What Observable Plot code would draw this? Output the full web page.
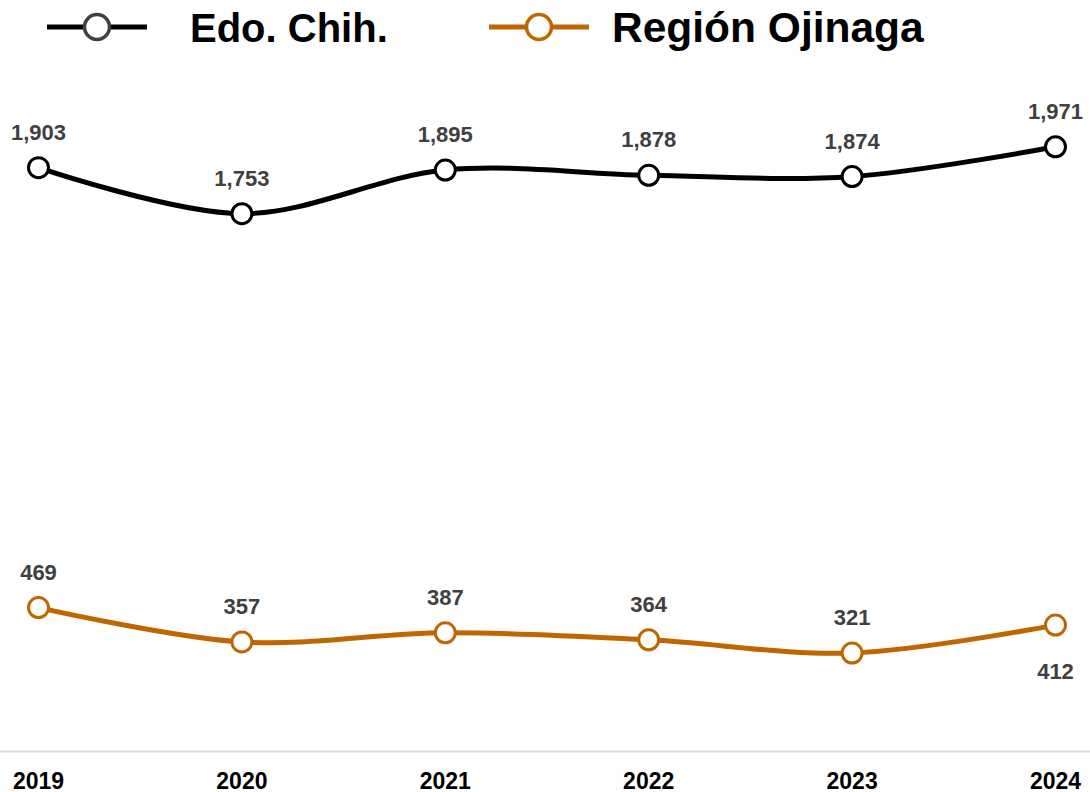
<!DOCTYPE html>
<html>
<head>
<meta charset="utf-8">
<script src="https://cdn.jsdelivr.net/npm/d3@7"></script>
<script src="https://cdn.jsdelivr.net/npm/@observablehq/plot@0.6"></script>
<style>
  html, body { margin: 0; padding: 0; background: #fff; }
  body { width: 1090px; height: 792px; overflow: hidden; font-family: "Liberation Sans", Arial, sans-serif; }
  #legend { position: relative; height: 60px; }
  #legend .item { position: absolute; top: 0; height: 56px; display: flex; align-items: center; }
  #legend .label { font-weight: bold; color: #000; white-space: nowrap; }
</style>
</head>
<body>
<div id="legend"></div>
<div id="chart"></div>
<script>
const years = [2019, 2020, 2021, 2022, 2023, 2024];
const edoChih = [1903, 1753, 1895, 1878, 1874, 1971];
const regionOjinaga = [469, 357, 387, 364, 321, 412];
const seriesNames = ["Edo. Chih.", "Región Ojinaga"];
const seriesColors = ["#000000", "#BF6600"];
const legendMarkerStroke = ["#404040", "#BF6600"];
const labelBelow = [[], [2024]];

const rows = [];
[edoChih, regionOjinaga].forEach((vals, s) => {
  vals.forEach((v, i) => rows.push({
    series: seriesNames[s], year: years[i], value: v,
    below: labelBelow[s].includes(years[i])
  }));
});

// Legend
const legend = document.getElementById("legend");
const legendPos = [{x: 47, tx: 190, fs: 40}, {x: 489, tx: 612, fs: 42.5}];
seriesNames.forEach((name, s) => {
  const item = document.createElement("div");
  item.className = "item";
  item.style.left = legendPos[s].x + "px";
  const gap = legendPos[s].tx - legendPos[s].x - 100;
  item.innerHTML = `<svg width="100" height="56" style="margin-right:${gap}px">
    <line x1="0" x2="100" y1="27" y2="27" stroke="${seriesColors[s]}" stroke-width="5"/>
    <circle cx="50" cy="27" r="12.5" fill="#fff" stroke="${legendMarkerStroke[s]}" stroke-width="3.5"/>
  </svg><span class="label" style="font-size:${legendPos[s].fs}px">${name}</span>`;
  legend.appendChild(item);
});

const fmt = d3.format(",");
const chart = Plot.plot({
  width: 1090,
  height: 732,
  marginTop: 16,
  marginBottom: 41,
  marginLeft: 38,
  marginRight: 35,
  style: { fontFamily: "Liberation Sans, Arial, sans-serif", background: "#fff", overflow: "visible" },
  x: { domain: [2019, 2024], ticks: years, tickFormat: d => String(d), label: null },
  y: { domain: [0, 2200], axis: null },
  color: { domain: seriesNames, range: seriesColors },
  marks: [
    Plot.ruleY([0], { stroke: "#d9d9d9", strokeWidth: 2, insetLeft: -38, insetRight: -35 }),
    Plot.axisX({ ticks: years, tickFormat: d => String(d), tickSize: 0, tickPadding: 21, fontSize: 23, fontWeight: "bold", fill: "#000", label: null }),
    Plot.line(rows, { x: "year", y: "value", z: "series", stroke: "series", strokeWidth: 5, curve: "catmull-rom" }),
    Plot.dot(rows, { x: "year", y: "value", stroke: "series", fill: "#fff", r: 10, strokeWidth: 3 }),
    Plot.text(rows.filter(d => !d.below), { x: "year", y: "value", text: d => fmt(d.value), dy: -35, fontSize: 22, fontWeight: "bold", fill: "#404040" }),
    Plot.text(rows.filter(d => d.below), { x: "year", y: "value", text: d => fmt(d.value), dy: 47, fontSize: 22, fontWeight: "bold", fill: "#404040" })
  ]
});
document.getElementById("chart").appendChild(chart);
</script>
</body>
</html>
